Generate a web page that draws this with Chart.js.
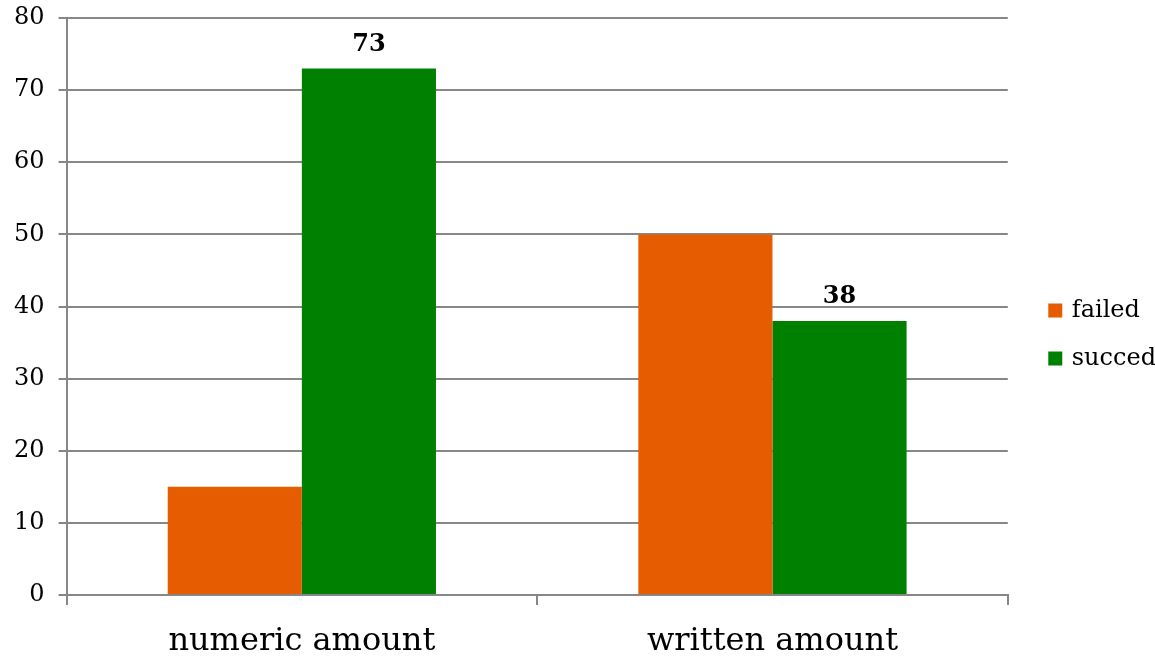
<!DOCTYPE html>
<html>
<head>
<meta charset="utf-8">
<script src="https://cdn.jsdelivr.net/npm/chart.js@4"></script>
<style>
  html, body { margin: 0; padding: 0; background: #fff; }
  #wrap { width: 1155px; height: 657px; }
</style>
</head>
<body>
<div id="wrap"><canvas id="chart" width="1155" height="657"></canvas></div>
<script>
const categories = ['numeric amount', 'written amount'];
const failedValues = [15, 50];
const succedValues = [73, 38];
const seriesNames = ['failed', 'succed'];

const gridGray = '#878787';
const serif = "'DejaVu Serif', serif";

// bold value labels above the "succed" bars only
const valueLabels = {
    id: 'valueLabels',
    afterDatasetsDraw(chart) {
        const ctx = chart.ctx;
        const meta = chart.getDatasetMeta(1);
        ctx.save();
        ctx.font = 'bold 24px ' + serif;
        ctx.fillStyle = '#000';
        ctx.textAlign = 'center';
        ctx.textBaseline = 'bottom';
        meta.data.forEach((bar, i) => {
            ctx.fillText(String(succedValues[i]), bar.x, bar.y - 12);
        });
        ctx.restore();
    }
};

// push the legend a bit right/up, like the original
const legendNudge = {
    id: 'legendNudge',
    afterLayout(chart) {
        const lg = chart.legend;
        lg.left += 19; lg.right += 19;
        lg.top -= 3; lg.bottom -= 3;
    }
};

new Chart(document.getElementById('chart').getContext('2d'), {
    type: 'bar',
    data: {
        labels: categories,
        datasets: [
            { label: seriesNames[0], data: failedValues, backgroundColor: '#E65C00', borderWidth: 0 },
            { label: seriesNames[1], data: succedValues, backgroundColor: '#008000', borderWidth: 0 }
        ]
    },
    options: {
        responsive: false,
        animation: false,
        categoryPercentage: 0.57,
        barPercentage: 1.0,
        layout: { padding: { top: 18, right: 8, left: 0, bottom: 0 } },
        plugins: {
            tooltip: { enabled: false },
            legend: {
                position: 'right',
                align: 'center',
                labels: {
                    color: '#000',
                    font: { family: serif, size: 24 },
                    boxWidth: 9, boxHeight: 9,
                    padding: 24,
                    // small box + thick same-colour stroke = 14px square with a tighter text gap
                    generateLabels(chart) {
                        const items = Chart.defaults.plugins.legend.labels.generateLabels(chart);
                        items.forEach(it => { it.lineWidth = 5; it.strokeStyle = it.fillStyle; });
                        return items;
                    }
                }
            }
        },
        scales: {
            x: {
                grid: { offset: true, drawOnChartArea: false, drawTicks: true, tickLength: 10, color: gridGray, lineWidth: 2 },
                border: { display: true, color: gridGray, width: 2 },
                ticks: { color: '#000', font: { family: serif, size: 32 }, padding: 17 },
                afterFit(scale) { scale.height = 62; }
            },
            y: {
                min: 0, max: 80,
                ticks: { stepSize: 10, color: '#000', font: { family: serif, size: 24 }, padding: 14 },
                grid: { color: gridGray, lineWidth: 2, tickLength: 8 },
                border: { display: true, color: gridGray, width: 2 },
                afterFit(scale) { scale.paddingTop = 0; }
            }
        }
    },
    plugins: [valueLabels, legendNudge]
});
</script>
</body>
</html>
